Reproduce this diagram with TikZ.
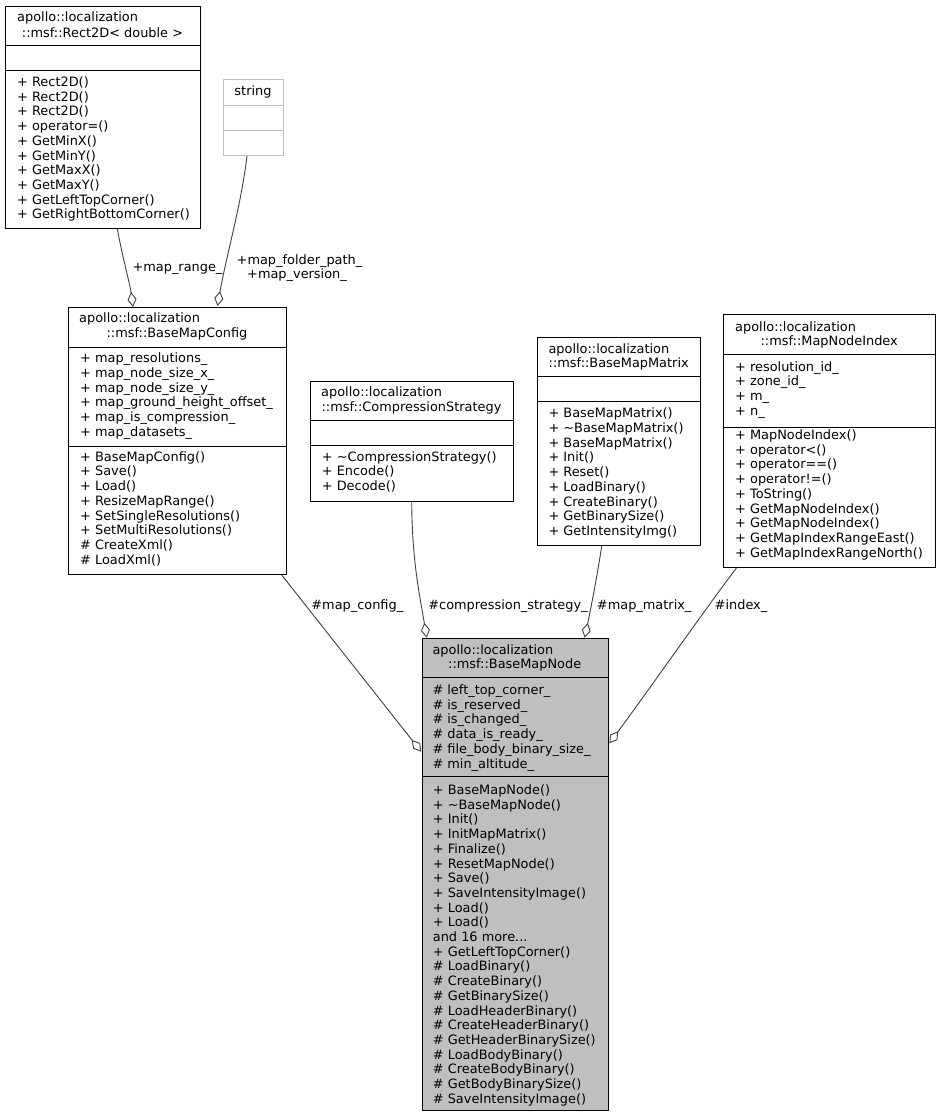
\documentclass[tikz,border=0pt]{standalone}
\usepackage{fontspec}
\setmainfont{DejaVu Sans}
\usetikzlibrary{arrows.meta,calc}
\definecolor{edgecol}{HTML}{404040}
\definecolor{nodefill}{HTML}{BFBFBF}
\definecolor{extcol}{HTML}{BFBFBF}
\newcommand\fsz{\fontsize{12.9}{14.7}\selectfont}
\newcommand\classlines[4]{%
  \foreach \t [count=\i from 0] in {#4} \node[tx] (#1\i) at (#2, #3+\i*14.7) {\t};}
\newcommand\moredots{.{}.{}.}
\tikzset{
  cls/.style={draw=black, line width=1pt, fill=white, inner sep=0pt, anchor=north west},
  tx/.style={anchor=base west, inner sep=0pt, font=\fsz},
  tc/.style={anchor=base, inner sep=0pt, font=\fsz},
  agg/.style={draw=edgecol, line width=0.9pt, -{Diamond[open, length=15pt, width=9pt, line width=0.9pt]}},
  divl/.style={draw=black, line width=1pt}
}
\begin{document}
\begin{tikzpicture}[x=1pt,y=-1pt]
\useasboundingbox (0,0) rectangle (940,1116);

% Rect2D
\node[cls, minimum width=195pt, minimum height=222pt] (rect) at (5,6) {};
\draw[divl] ($(rect.north west)+(0,40)$) -- ($(rect.north east)+(0,40)$);
\draw[divl] ($(rect.north west)+(0,65)$) -- ($(rect.north east)+(0,65)$);
\node[tx] (rectt1) at (17,21.5) {apollo::localization};
\node[tc] (rectt2) at (102.5,37.5) {::msf::Rect2D< double >};
\classlines{rectm}{17}{86.5}{+ Rect2D(),+ Rect2D(),+ Rect2D(),+ operator=(),+ GetMinX(),+ GetMinY(),+ GetMaxX(),+ GetMaxY(),+ GetLeftTopCorner(),+ GetRightBottomCorner()}

% string
\node[cls, draw=extcol, minimum width=60pt, minimum height=76pt] (str) at (223,79) {};
\draw[draw=extcol, line width=1pt] ($(str.north west)+(0,26)$) -- ($(str.north east)+(0,26)$);
\draw[draw=extcol, line width=1pt] ($(str.north west)+(0,51)$) -- ($(str.north east)+(0,51)$);
\node[tc] (strt) at (253,95.5) {string};

% BaseMapConfig
\node[cls, minimum width=218pt, minimum height=267pt] (cfg) at (68,307) {};
\draw[divl] ($(cfg.north west)+(0,40)$) -- ($(cfg.north east)+(0,40)$);
\draw[divl] ($(cfg.north west)+(0,139)$) -- ($(cfg.north east)+(0,139)$);
\node[tx] (cfgt1) at (79,322.5) {apollo::localization};
\node[tc] (cfgt2) at (177,337.5) {::msf::BaseMapConfig};
\classlines{cfga}{80}{362.8}{+ map\_resolutions\_,+ map\_node\_size\_x\_,+ map\_node\_size\_y\_,+ map\_ground\_height\_offset\_,+ map\_is\_compression\_,+ map\_datasets\_}
\classlines{cfgm}{80}{461.2}{+ BaseMapConfig(),+ Save(),+ Load(),+ ResizeMapRange(),+ SetSingleResolutions(),+ SetMultiResolutions(),\# CreateXml(),\# LoadXml()}

% CompressionStrategy
\node[cls, minimum width=203pt, minimum height=120pt] (cs) at (310,380.7) {};
\draw[divl] ($(cs.north west)+(0,40)$) -- ($(cs.north east)+(0,40)$);
\draw[divl] ($(cs.north west)+(0,65)$) -- ($(cs.north east)+(0,65)$);
\node[tx] (cst1) at (321,396.8) {apollo::localization};
\node[tc] (cst2) at (411.5,411.2) {::msf::CompressionStrategy};
\classlines{csm}{321.7}{461.2}{+ \textasciitilde CompressionStrategy(),+ Encode(),+ Decode()}

% BaseMapMatrix
\node[cls, minimum width=162.7pt, minimum height=208.3pt] (mat) at (537.3,336.7) {};
\draw[divl] ($(mat.north west)+(0,40)$) -- ($(mat.north east)+(0,40)$);
\draw[divl] ($(mat.north west)+(0,65)$) -- ($(mat.north east)+(0,65)$);
\node[tx] (matt1) at (548.3,353.5) {apollo::localization};
\node[tc] (matt2) at (618.7,367.8) {::msf::BaseMapMatrix};
\classlines{matm}{548.3}{417.8}{+ BaseMapMatrix(),+ \textasciitilde BaseMapMatrix(),+ BaseMapMatrix(),+ Init(),+ Reset(),+ LoadBinary(),+ CreateBinary(),+ GetBinarySize(),+ GetIntensityImg()}

% MapNodeIndex
\node[cls, minimum width=211.7pt, minimum height=252.4pt] (idx) at (723.3,314.3) {};
\draw[divl] ($(idx.north west)+(0,40)$) -- ($(idx.north east)+(0,40)$);
\draw[divl] ($(idx.north west)+(0,113.4)$) -- ($(idx.north east)+(0,113.4)$);
\node[tx] (idxt1) at (735,331.2) {apollo::localization};
\node[tc] (idxt2) at (829.2,345.5) {::msf::MapNodeIndex};
\classlines{idxa}{735}{371.2}{+ resolution\_id\_,+ zone\_id\_,+ m\_,+ n\_}
\classlines{idxm}{735}{439.5}{+ MapNodeIndex(),+ operator<(),+ operator==(),+ operator!=(),+ ToString(),+ GetMapNodeIndex(),+ GetMapNodeIndex(),+ GetMapIndexRangeEast(),+ GetMapIndexRangeNorth()}

% BaseMapNode
\node[cls, fill=nodefill, minimum width=186pt, minimum height=472.3pt] (bmn) at (421.7,637.7) {};
\draw[divl] ($(bmn.north west)+(0,40)$) -- ($(bmn.north east)+(0,40)$);
\draw[divl] ($(bmn.north west)+(0,139)$) -- ($(bmn.north east)+(0,139)$);
\node[tx] (bmnt1) at (432.3,654.5) {apollo::localization};
\node[tc] (bmnt2) at (514.7,668.8) {::msf::BaseMapNode};
\classlines{bmna}{432.3}{694.5}{\# left\_top\_corner\_,\# is\_reserved\_,\# is\_changed\_,\# data\_is\_ready\_,\# file\_body\_binary\_size\_,\# min\_altitude\_}
\classlines{bmnm}{432.7}{794.5}{+ BaseMapNode(),+ \textasciitilde BaseMapNode(),+ Init(),+ InitMapMatrix(),+ Finalize(),+ ResetMapNode(),+ Save(),+ SaveIntensityImage(),+ Load(),+ Load(),and 16 more\moredots,+ GetLeftTopCorner(),\# LoadBinary(),\# CreateBinary(),\# GetBinarySize(),\# LoadHeaderBinary(),\# CreateHeaderBinary(),\# GetHeaderBinarySize(),\# LoadBodyBinary(),\# CreateBodyBinary(),\# GetBodyBinarySize(),\# SaveIntensityImage()}

% edges
\draw[agg] ($(rect.south west)+(112.3,0)$) .. controls ($(rect.south west)+(119,35)$) and ($(rect.south west)+(125,55)$) .. ($(cfg.north west)+(65,0)$);
\draw[agg] ($(str.south west)+(24,0)$) .. controls ($(str.south west)+(18,50)$) and ($(str.south west)+(3,101)$) .. ($(cfg.north west)+(149.5,-1)$);
\draw[agg] ($(cfg.south west)+(213.7,0)$) -- ($(bmn.north west)+(-0.5,114)$);
\draw[agg] ($(cs.south west)+(101.7,0)$) .. controls ($(cs.south west)+(102,60)$) and ($(cs.south west)+(110,95)$) .. ($(bmn.north west)+(5,0)$);
\draw[agg] ($(mat.south west)+(64.4,0)$) .. controls ($(mat.south west)+(60,30)$) and ($(mat.south west)+(52,70)$) .. ($(bmn.north west)+(163,0)$);
\draw[agg] ($(idx.south west)+(13.4,0)$) .. controls ($(idx.south west)+(-10,30)$) and ($(idx.south west)+(-80,130)$) .. ($(bmn.north east)+(0.6,105.6)$);

% edge labels
\node[tc] (lrange) at (177.5,271.5) {+map\_range\_};
\node[tc] (lfold) at (299.5,264.5) {+map\_folder\_path\_};
\node[tc] (lver) at (297,278.8) {+map\_version\_};
\node[tc] (lcfg) at (357.3,609.5) {\#map\_config\_};
\node[tc] (lcs) at (508,609.5) {\#compression\_strategy\_};
\node[tc] (lmat) at (644.2,609.5) {\#map\_matrix\_};
\node[tc] (lidx) at (741,609.5) {\#index\_};
\end{tikzpicture}
\end{document}
